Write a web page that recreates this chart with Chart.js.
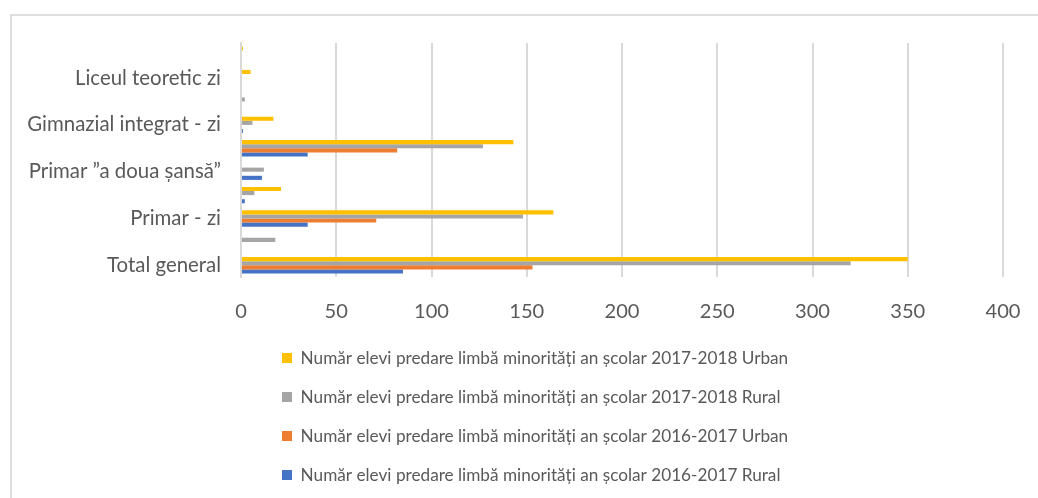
<!DOCTYPE html>
<html>
<head>
<meta charset="utf-8">
<script src="https://cdn.jsdelivr.net/npm/chart.js@4.4.1/dist/chart.umd.min.js"></script>
<style>
html,body{margin:0;padding:0;background:#fff;overflow:hidden;width:1038px;height:498px;}
#wrap{position:relative;width:1038px;height:498px;overflow:hidden;}
#frame{position:absolute;left:10px;top:14px;width:1200px;height:700px;border:2px solid #dedede;box-sizing:border-box;}
#c{position:absolute;left:0;top:0;}
</style>
</head>
<body>
<div id="wrap"><div id="frame"></div><canvas id="c" width="1038" height="498"></canvas></div>
<script>
// Categories listed top to bottom (unlabelled categories in the reference are left blank)
const categories = ["", "Liceul teoretic zi", "", "Gimnazial integrat - zi", "", "Primar ”a doua șansă”", "", "Primar - zi", "", "Total general"];

const seriesNames = [
  "Număr elevi predare limbă minorități an școlar 2017-2018 Urban",
  "Număr elevi predare limbă minorități an școlar 2017-2018 Rural",
  "Număr elevi predare limbă minorități an școlar 2016-2017 Urban",
  "Număr elevi predare limbă minorități an școlar 2016-2017 Rural"
];

const urban2017_2018 = [1, 5, 0, 17, 143, 0, 21, 164, 0, 350];
const rural2017_2018 = [0, 0, 2, 6, 127, 12, 7, 148, 18, 320];
const urban2016_2017 = [0, 0, 0, 0, 82, 0, 0, 71, 0, 153];
const rural2016_2017 = [0, 0, 0, 1, 35, 11, 2, 35, 0, 85];

const xTickValues = [0, 50, 100, 150, 200, 250, 300, 350, 400];

const seriesColors = ["#FFC000", "#A5A5A5", "#ED7D31", "#4472C4"];

// ---- font sizing by measured widths ----
const FAMILY = "Lato, 'Open Sans', 'Liberation Sans', sans-serif";
function fitSize(text, target) {
  const ctx = document.createElement('canvas').getContext('2d');
  ctx.font = "100px " + FAMILY;
  return Math.round(100 * target / ctx.measureText(text).width * 10) / 10;
}
const tickSize = fitSize("400", 35);
const catSize = fitSize("Primar ”a doua șansă”", 192);
const legSize = fitSize(seriesNames[0], 489);

// ---- layout ----
const ROW = 39;               // legend row spacing
const legPad = ROW - legSize;
const firstRowCenter = 358;
const legendTop = firstRowCenter - legPad - legSize / 2;
const legendH = 4 * ROW + 10;
const padBottom = 498 - legendTop - legendH;
const plotTop = 43, plotBottom = 277, plotLeft = 241;
const padRight = 35, padLeft = 20;
const legendBoxX = 282;       // legend entries are left-aligned at this x

const textColor = "#595959";
const gridColor = "#d9d9d9";

const dataArrays = [urban2017_2018, rural2017_2018, urban2016_2017, rural2016_2017];

const legendShift = {
  id: 'legendShift',
  afterLayout(chart) {
    const lg = chart.legend;
    if (!lg) return;
    const w = lg.right - lg.left;
    lg.left = legendBoxX - legPad;
    lg.right = lg.left + w;
  }
};

new Chart(document.getElementById('c'), {
  type: 'bar',
  data: {
    labels: categories,
    datasets: dataArrays.map((arr, i) => ({
      label: seriesNames[i],
      data: arr,
      backgroundColor: seriesColors[i],
      borderWidth: 0,
      barPercentage: 1.0,
      categoryPercentage: 0.7
    }))
  },
  options: {
    indexAxis: 'y',
    responsive: false,
    animation: false,
    devicePixelRatio: 1,
    layout: { padding: { top: plotTop, left: padLeft, right: padRight, bottom: padBottom } },
    scales: {
      x: {
        type: 'linear',
        min: 0, max: 400,
        afterBuildTicks: s => { s.ticks = xTickValues.map(v => ({ value: v })); },
        afterFit: s => { s.height = legendTop - plotBottom; s.paddingRight = 0; s.paddingLeft = 0; },
        grid: { color: gridColor, lineWidth: 2, drawTicks: false },
        border: { display: false },
        ticks: { color: textColor, padding: 22, font: { family: FAMILY, size: tickSize } }
      },
      y: {
        type: 'category',
        afterFit: s => { s.width = plotLeft - padLeft; },
        grid: { display: false, drawTicks: false },
        border: { display: true, color: gridColor, width: 2 },
        ticks: { color: textColor, padding: 20, autoSkip: false, font: { family: FAMILY, size: catSize } }
      }
    },
    plugins: {
      legend: {
        position: 'bottom',
        align: 'start',
        labels: {
          color: textColor,
          boxWidth: 10, boxHeight: 10,
          padding: legPad,
          font: { family: FAMILY, size: legSize }
        }
      },
      tooltip: { enabled: false }
    }
  },
  plugins: [legendShift]
});
</script>
</body>
</html>
